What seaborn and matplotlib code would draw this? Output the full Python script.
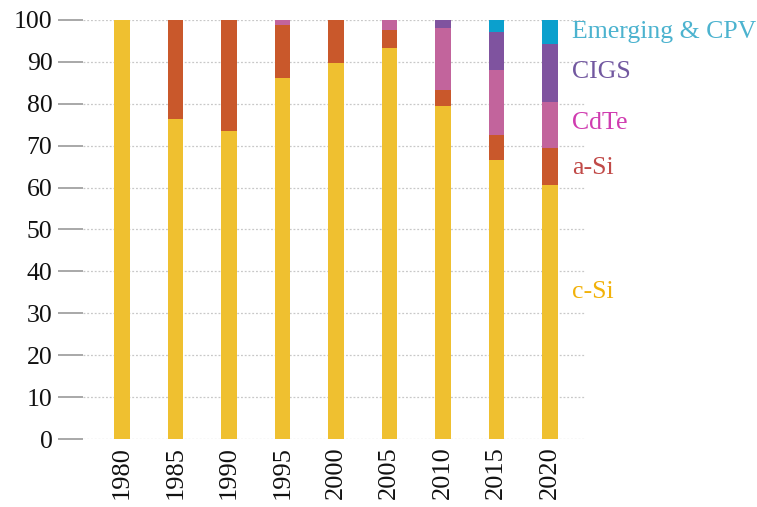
import numpy as np
import pandas as pd
import matplotlib
matplotlib.use("Agg")
import matplotlib.pyplot as plt
import seaborn as sns

# Market share (%) of PV technologies
years = ["1980", "1985", "1990", "1995", "2000", "2005", "2010", "2015", "2020"]
c_si = [100, 76.4, 73.5, 86.2, 89.7, 93.4, 79.5, 66.6, 60.6]
a_si = [0, 23.6, 26.5, 12.6, 10.3, 4.2, 3.8, 6.0, 8.8]
cdte = [0, 0, 0, 1.2, 0, 2.4, 14.9, 15.5, 11.1]
cigs = [0, 0, 0, 0, 0, 0, 1.8, 9.1, 13.8]
emerging = [0, 0, 0, 0, 0, 0, 0, 2.8, 5.7]

series = ["c-Si", "a-Si", "CdTe", "CIGS", "Emerging & CPV"]
bar_colors = ["#EFC030", "#C9582B", "#C2649C", "#7F539F", "#0BA0CD"]
label_colors = ["#F2B20A", "#C14A48", "#D03CB0", "#7258A0", "#4CB3CF"]
label_y = [35, 64.7, 75.4, 87.6, 97.2]

df = pd.DataFrame({"year": years, "c-Si": c_si, "a-Si": a_si, "CdTe": cdte,
                   "CIGS": cigs, "Emerging & CPV": emerging})
# cumulative tops so the layers can be drawn back to front
cum = df[series].cumsum(axis=1)

sns.set_style("white")
plt.rcParams["font.family"] = ["Liberation Serif", "DejaVu Serif"]

fig = plt.figure(figsize=(7.57, 5.07), dpi=100)
ax = fig.add_axes([0.1096, 0.1341, 0.664, 0.8265])

for name, col in reversed(list(zip(series, bar_colors))):
    sns.barplot(x=df["year"], y=cum[name], color=col, saturation=1,
                width=0.29, linewidth=0, ax=ax, zorder=3)

ax.set_ylim(0, 100)
ax.set_xlim(-0.73, 8.67)
ax.set_yticks(range(0, 101, 10))
ax.set_xlabel("")
ax.set_ylabel("")
for s in ax.spines.values():
    s.set_visible(False)
ax.grid(axis="y", linestyle=(0, (1.5, 1.5)), color="#c8c8c8", linewidth=0.9, zorder=0)
ax.grid(axis="x", visible=False)
ax.tick_params(axis="y", length=18, width=1.4, color="#a8a8a8", pad=4,
               labelsize=18.5, labelcolor="#111111", left=True)
ax.tick_params(axis="x", length=0, pad=5, labelsize=19, labelcolor="#111111",
               labelrotation=90)
for lbl in ax.get_xticklabels():
    lbl.set_verticalalignment("top")

for name, col, yv in zip(series, label_colors, label_y):
    ax.text(8.42, yv, name, color=col, fontsize=18.5, va="center", ha="left",
            clip_on=False)

fig.savefig("out.png", dpi=100)
